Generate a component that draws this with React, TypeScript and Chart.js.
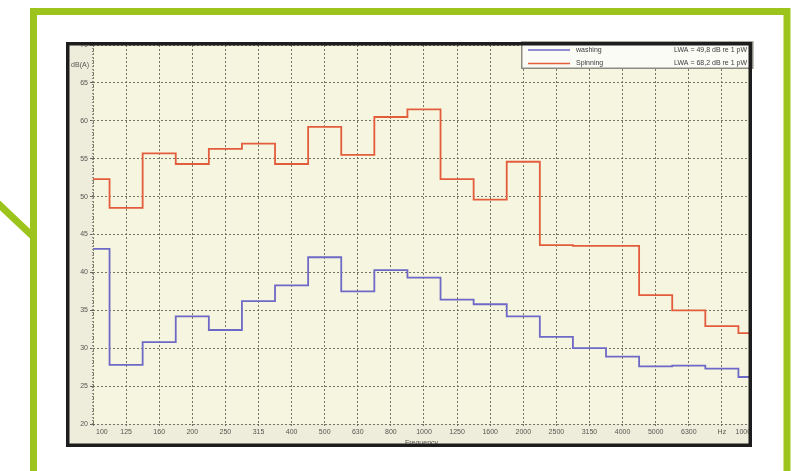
import React, { useEffect, useRef } from "react";
import { Chart, registerables } from "chart.js";

Chart.register(...registerables);

// ---- data ----
const bands = ["100", "125", "160", "200", "250", "315", "400", "500", "630", "800", "1000", "1250", "1600", "2000", "2500", "3150", "4000", "5000", "6300", "8000", "10000"];
const xTickLabels = ["100", "125", "160", "200", "250", "315", "400", "500", "630", "800", "1000", "1250", "1600", "2000", "2500", "3150", "4000", "5000", "6300", "Hz", "10000"];
const washing = [43.1, 27.8, 30.8, 34.2, 32.4, 36.2, 38.3, 42.0, 37.5, 40.3, 39.3, 36.4, 35.8, 34.2, 31.5, 30.0, 28.9, 27.6, 27.7, 27.3, 26.2];
const spinning = [52.3, 48.5, 55.7, 54.3, 56.3, 57.0, 54.3, 59.2, 55.5, 60.5, 61.5, 52.3, 49.6, 54.6, 43.6, 43.5, 43.5, 37.0, 35.0, 32.9, 32.0];
const seriesNames = ["washing", "Spinning"];
const lwaTexts = ["LWA = 49,8 dB re 1 pW", "LWA = 68,2 dB re 1 pW"];
const yTicks = { min: 20, max: 70, step: 5 };
const xTitle = "Frequency";
const yUnit = "dB(A)";

// ---- styles ----
const GREEN = "#9dc41c";
const RED = "#e35c3c";
const BLUE = "#6e69c6";
const GRID = "rgba(95,95,82,0.85)";
const FONT = '7px "Liberation Sans", Arial, sans-serif';
const BOX = { l: 66, t: 42, r: 752, b: 447 };

const decorPlugin = {
  id: "decor",
  beforeDraw(chart: any) {
    const { ctx, chartArea: a } = chart;
    ctx.save();
    ctx.fillStyle = "#ffffff";
    ctx.fillRect(0, 0, chart.width, chart.height);
    // green frame
    ctx.strokeStyle = GREEN;
    ctx.lineWidth = 7;
    ctx.lineJoin = "miter";
    ctx.beginPath();
    ctx.moveTo(33.5, chart.height + 5);
    ctx.lineTo(33.5, 11.5);
    ctx.lineTo(787, 11.5);
    ctx.lineTo(787, chart.height + 5);
    ctx.stroke();
    ctx.beginPath();
    ctx.moveTo(-10, 196);
    ctx.lineTo(33.5, 237);
    ctx.stroke();
    // chart box backgrounds
    ctx.fillStyle = "#eeeddb";
    ctx.fillRect(BOX.l, BOX.t, BOX.r - BOX.l, BOX.b - BOX.t);
    ctx.fillStyle = "#f6f5df";
    ctx.fillRect(a.left, a.top, a.right - a.left, a.bottom - a.top);
    ctx.restore();
  },
  afterDatasetsDraw(chart: any) {
    const { ctx, chartArea: a } = chart;
    ctx.save();
    // dotted left axis
    ctx.strokeStyle = "#8a8a7e";
    ctx.lineWidth = 2;
    ctx.setLineDash([1, 2]);
    ctx.beginPath();
    ctx.moveTo(a.left, a.top);
    ctx.lineTo(a.left, a.bottom);
    ctx.stroke();
    ctx.setLineDash([]);
    // legend
    const lx = 521, ly = BOX.t, lw = BOX.r - lx, lh = 27;
    ctx.fillStyle = "#fbfbf6";
    ctx.fillRect(lx, ly, lw, lh);
    ctx.strokeStyle = "#8c8c82";
    ctx.lineWidth = 1.5;
    ctx.strokeRect(lx + 0.75, ly, lw, lh - 0.75);
    const colors = [BLUE, RED];
    ctx.font = FONT;
    ctx.textBaseline = "middle";
    seriesNames.forEach((name, i) => {
      const yy = ly + 8 + i * 13.5;
      ctx.strokeStyle = colors[i];
      ctx.lineWidth = 1.5;
      ctx.beginPath();
      ctx.moveTo(lx + 7, yy);
      ctx.lineTo(lx + 49, yy);
      ctx.stroke();
      ctx.fillStyle = "#3a3a3a";
      ctx.textAlign = "left";
      ctx.fillText(name, lx + 55, yy);
      ctx.textAlign = "right";
      ctx.fillText(lwaTexts[i], BOX.r - 5, yy);
    });
    ctx.restore();
  },
  afterDraw(chart: any) {
    const { ctx, chartArea: a, scales } = chart;
    const x = scales.x, y = scales.y;
    ctx.save();
    ctx.beginPath();
    ctx.rect(BOX.l, BOX.t, BOX.r - BOX.l, BOX.b - BOX.t);
    ctx.clip();
    ctx.font = FONT;
    ctx.fillStyle = "#555550";
    ctx.textBaseline = "middle";
    const last = xTickLabels.length - 1;
    xTickLabels.forEach((lab, i) => {
      ctx.textAlign = i === 0 ? "left" : i === last ? "right" : "center";
      ctx.fillText(lab, x.getPixelForValue(i) + (i === 0 ? 3 : 0), a.bottom + 8);
    });
    ctx.textAlign = "center";
    ctx.fillText(xTitle, (a.left + a.right) / 2, a.bottom + 19);
    ctx.textAlign = "right";
    ctx.fillText(yUnit, a.left - 4, y.getPixelForValue(67.3));
    ctx.restore();
    // dark box border
    ctx.save();
    ctx.strokeStyle = "#1d1d1d";
    ctx.lineWidth = 3.5;
    ctx.strokeRect(BOX.l + 1.75, BOX.t + 1.75, BOX.r - BOX.l - 3.5, BOX.b - BOX.t - 3.5);
    ctx.restore();
  },
};

export default function App() {
  const ref = useRef<HTMLCanvasElement>(null);
  useEffect(() => {
    if (!ref.current) return;
    const toPts = (arr: number[]) => arr.map((v, i) => ({ x: i, y: v }));
    const chart = new Chart(ref.current, {
      type: "line",
      data: {
        labels: bands,
        datasets: [
          { label: seriesNames[0], data: toPts(washing), borderColor: BLUE, borderWidth: 1.8, pointRadius: 0, stepped: "middle", fill: false },
          { label: seriesNames[1], data: toPts(spinning), borderColor: RED, borderWidth: 1.8, pointRadius: 0, stepped: "middle", fill: false },
        ],
      },
      options: {
        responsive: false,
        animation: false,
        devicePixelRatio: 1,
        layout: { padding: { left: 0, right: 56, top: 45, bottom: 0 } },
        plugins: { legend: { display: false }, tooltip: { enabled: false }, title: { display: false } },
        scales: {
          x: {
            type: "linear",
            min: 0,
            max: 19.85,
            afterFit: (s: any) => { s.height = 47; },
            ticks: { stepSize: 1, includeBounds: false, display: false },
            grid: { color: GRID, lineWidth: 1, drawTicks: true, tickLength: 4, tickColor: GRID, tickBorderDash: [2, 2] },
            border: { display: false, dash: [2, 2] },
          },
          y: {
            type: "linear",
            min: yTicks.min,
            max: yTicks.max,
            afterFit: (s: any) => { s.width = 93; },
            ticks: { stepSize: yTicks.step, font: { size: 7, family: '"Liberation Sans", Arial, sans-serif' }, color: "#555550", padding: 2 },
            grid: { color: GRID, lineWidth: 1, drawTicks: true, tickLength: 3, tickColor: "#666660" },
            border: { display: false, dash: [2, 2] },
          },
        },
      },
      plugins: [decorPlugin],
    } as any);
    return () => chart.destroy();
  }, []);
  return (
    <div style={{ position: "fixed", left: 0, top: 0, width: 806, height: 471 }}>
      <canvas ref={ref} width={806} height={471} style={{ display: "block" }} />
    </div>
  );
}
